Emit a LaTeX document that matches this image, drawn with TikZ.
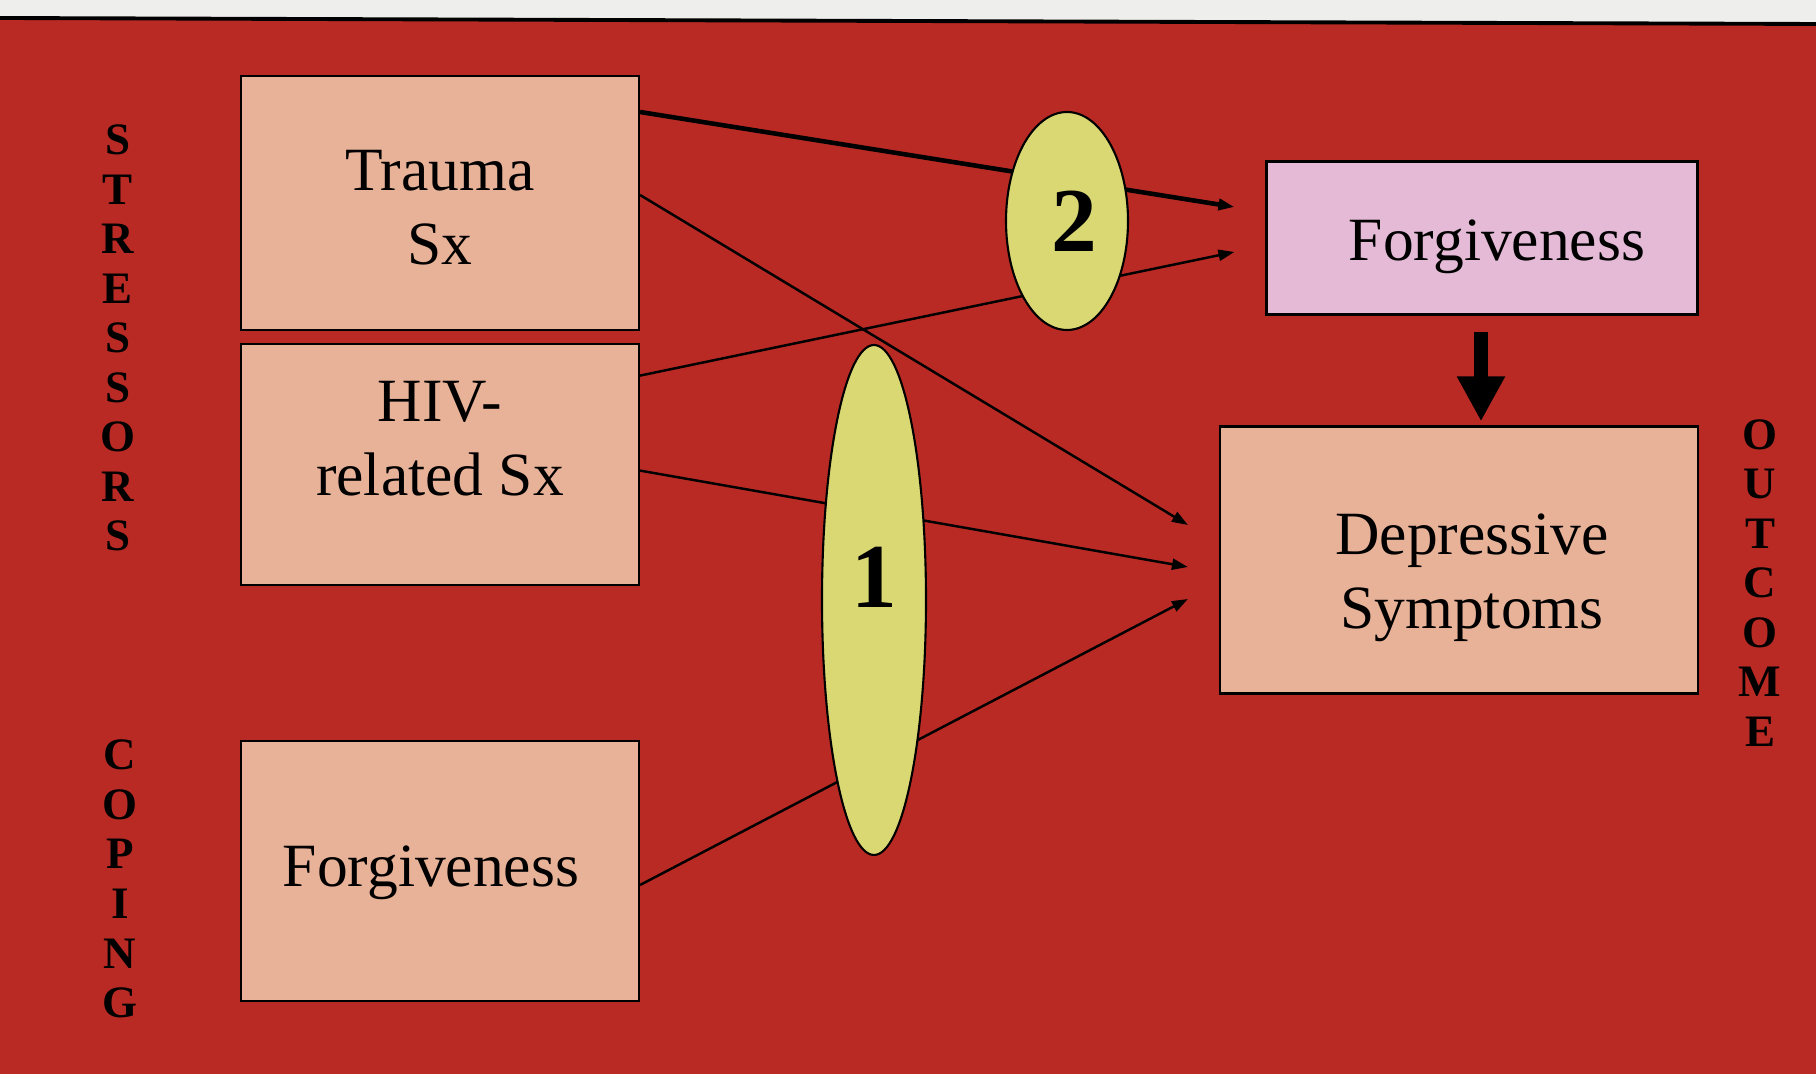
\documentclass[tikz,border=0pt]{standalone}
\usepackage{fontspec}
\setmainfont{Liberation Serif}
\usetikzlibrary{
		calc,
		positioning,
		arrows.meta,
		shapes.geometric
	}
\definecolor{bgred}{RGB}{186,42,36}
\definecolor{paper}{RGB}{238,238,236}
\definecolor{peach}{RGB}{232,178,152}
\definecolor{lilac}{RGB}{228,186,214}
\definecolor{lemon}{RGB}{218,216,115}

\begin{document}
\begin{tikzpicture}[x=0.1mm, y=-0.1mm,
	box/.style={draw=black, line width=0.6pt, fill=peach, inner sep=0pt},
	txt/.style={align=center, font=\fontsize{17.5}{21}\selectfont},
	oval/.style={ellipse, draw=black, line width=0.6pt, fill=lemon, inner sep=0pt},
	num/.style={font=\fontsize{26}{30}\selectfont\bfseries},
	link/.style={line width=0.7pt, -{Triangle[length=1.6mm, width=1.1mm]}},
	side/.style={align=center, font=\fontsize{12.8}{14.1}\selectfont\bfseries}]
	\useasboundingbox (0,0) rectangle (1816,1074);
	% background sheet
	\fill[paper] (0,0) rectangle (1816,40);
	\fill[bgred] (0,18) -- (1816,24) -- (1816,1074) -- (0,1074) -- cycle;
	\draw[line width=1.1pt] (0,18) -- (1816,24);

	\node[box, minimum width=39.8mm, minimum height=25.4mm, label={[txt, yshift=-0.5mm]center:Trauma\\Sx}] (trauma) at (440,203) {};
	\node[box, minimum width=39.8mm, minimum height=24.1mm, below=1.2mm of trauma, label={[txt, yshift=2.6mm]center:HIV-\\related Sx}] (hiv) {};
	\node[box, minimum width=39.8mm, minimum height=26mm, label={[txt, xshift=-0.9mm, yshift=-0.2mm]center:Forgiveness}] (forgc) at (440,871) {};
	\node[box, fill=lilac, minimum width=43.1mm, minimum height=15.3mm, label={[txt, xshift=1.5mm, yshift=-0.9mm]center:Forgiveness}] (forgo) at (1482,238) {};
	\node[box, minimum width=47.8mm, minimum height=26.7mm, label={[txt, xshift=1.3mm, yshift=-1.8mm]center:Depressive\\Symptoms}] (dep) at (1459,560) {};

	\draw[link, line width=1.3pt] ($(trauma.east)+(0,-91)$) -- ($(forgo.west)+(-31,-31)$);
	\draw[link] ($(hiv.east)+(0,-89)$) -- ($(forgo.west)+(-31,14)$);
	\draw[link] ($(trauma.east)+(0,-8)$) -- ($(dep.west)+(-31,-35)$);
	\draw[link] ($(hiv.east)+(0,6)$) -- ($(dep.west)+(-31,7)$);
	\draw[link] ($(forgc.east)+(0,14)$) -- ($(dep.west)+(-31,39)$);
	\draw[line width=4pt, -{Triangle[length=4.5mm, width=4.5mm]}, shorten >=0.4mm] ($(forgo.south)+(-1,16)$) -- ($(forgo.south |- dep.north)+(-1,0)$); % forgiveness -> outcome

	% the ovals lie over the links
	\node[oval, minimum width=12.2mm, minimum height=21.8mm, label={[num, xshift=0.7mm]center:2}] (two) at (1067,221) {};
	\node[oval, minimum width=10.4mm, minimum height=51mm, label={[num, yshift=2.3mm]center:1}] (one) at (874,600) {};

	\node[side] (stressors) at (118,338) {S\\T\\R\\E\\S\\S\\O\\R\\S};
	\node[side] (coping) at (120,879) {C\\O\\P\\I\\N\\G};
	\node[side] (outcome) at (1760,583) {O\\U\\T\\C\\O\\M\\E};
\end{tikzpicture}
\end{document}
